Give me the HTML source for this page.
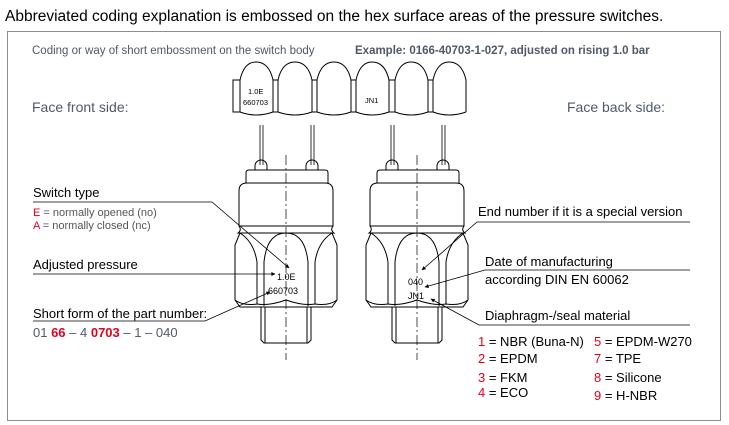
<!DOCTYPE html>
<html><head><meta charset="utf-8"><style>
body{margin:0;background:#fff}
svg{display:block}
text{font-family:"Liberation Sans",sans-serif}
</style></head><body>
<svg width="729" height="425" viewBox="0 0 729 425" xmlns="http://www.w3.org/2000/svg">
<defs>
<marker id="ar" viewBox="0 0 10 10" refX="9" refY="5" markerWidth="7" markerHeight="5" orient="auto"><path d="M0,0L10,5L0,10z" fill="#000"/></marker>
<g id="sw" fill="none" stroke="#000" stroke-width="1">
  <path d="M-26,125v40M-23,125v40M25,125v40M28,125v40" stroke-width="0.8"/>
  <path d="M-31,170v-4a6,6 0 0 1 12,0v4M20,170v-4a6,6 0 0 1 12,0v4"/>
  <path d="M-40,183v-10q0,-3 3,-3h76q3,0 3,3v10"/>
  <path d="M-47,226v-35q0,-8 8,-8h78q8,0 8,8v35z"/>
  <path d="M-47,226q3,4 -1,7h96q-4,-3 -1,-7"/>
  <!-- hex -->
  <path d="M-46,233l-5,12v55l5,7h92l5,-7v-55l-5,-12z"/>
  <path d="M-29,262v42M-22,262v44M22,262v44M29,262v42"/>
  <path d="M-22,262q3,-29 22,-29q19,0 22,29"/>
  <path d="M-29,262q-3,-20 -17,-29M29,262q3,-20 17,-29"/>
  <path d="M-51,300q8,6 22,4q12,2 29,-4q17,6 29,4q14,2 22,-4"/>
  <path d="M-25,307v33l3,3h44l3,-3v-33M-21,307v36M21,307v36"/>
  <path d="M0,155v205" stroke-dasharray="10,3,2,3" stroke-width="0.7"/>
</g>
</defs>
<text x="5" y="21" font-size="15.5" fill="#000">Abbreviated coding explanation is embossed on the hex surface areas of the pressure switches.</text>
<rect x="7.5" y="31.5" width="713" height="389" fill="none" stroke="#8a8f96" stroke-width="1"/>
<text x="32" y="54" font-size="11.5" fill="#4e5a68">Coding or way of short embossment on the switch body</text>
<text x="355" y="54" font-size="11.5" fill="#4e5a68" font-weight="bold">Example: 0166-40703-1-027, adjusted on rising 1.0 bar</text>
<text x="32" y="112" font-size="14" fill="#4e5a68">Face front side:</text>
<text x="567" y="112" font-size="14" fill="#4e5a68">Face back side:</text>
<g fill="none" stroke="#000" stroke-width="1">
  <rect x="233" y="80" width="7" height="32"/><rect x="273" y="80" width="5" height="32"/><rect x="312" y="80" width="5" height="32"/><rect x="351" y="80" width="5" height="32"/><rect x="389" y="80" width="6" height="32"/><rect x="428" y="80" width="5" height="32"/>
  <path d="M240,80q4,-18 16,-18q13,0 17,18M278,80q4,-18 17,-18q13,0 17,18M317,80q4,-18 17,-18q13,0 17,18M356,80q4,-18 16,-18q13,0 17,18M395,80q4,-18 16,-18q13,0 17,18M433,80q4,-18 16,-18q13,0 17,18v32"/>
  <path d="M240,112q16,6 33,0M278,112q17,6 34,0M317,112q17,6 34,0M356,112q16,6 33,0M395,112q16,6 33,0M433,112q16,6 33,0"/>
</g>
<text x="248" y="94" font-size="7.5">1.0E</text><text x="243" y="105" font-size="7.5">660703</text>
<text x="365" y="103" font-size="7.5">JN1</text>
<use href="#sw" transform="translate(286,0)"/>
<use href="#sw" transform="translate(417,0)"/>
<text x="277" y="280" font-size="9">1.0E</text><text x="268" y="294" font-size="9">660703</text>
<text x="408" y="285" font-size="9">040</text><text x="408" y="299" font-size="9">JN1</text>
<text x="33" y="197" font-size="13" fill="#000">Switch type</text>
<path d="M33,202H212L289,268" fill="none" stroke="#000" stroke-width="0.8" marker-end="url(#ar)"/>
<text x="33" y="216" font-size="11" fill="#555"><tspan fill="#e3001b">E</tspan>  =  normally opened (no)</text>
<text x="33" y="229" font-size="11" fill="#555"><tspan fill="#e3001b">A</tspan>  =  normally closed (nc)</text>
<text x="33" y="269" font-size="13">Adjusted pressure</text>
<path d="M33,274H275" fill="none" stroke="#000" stroke-width="0.8" marker-end="url(#ar)"/>
<text x="33" y="318" font-size="13">Short form of the part number:</text>
<path d="M33,321H205L270,292" fill="none" stroke="#000" stroke-width="0.8" marker-end="url(#ar)"/>
<text x="33" y="337" font-size="13" fill="#4e5a68">01 <tspan fill="#e3001b" font-weight="bold">66</tspan> – 4 <tspan fill="#e3001b" font-weight="bold">0703</tspan> – 1 – 040</text>
<text x="478" y="216" font-size="13">End number if it is a special version</text>
<path d="M690,222H477L422,270" fill="none" stroke="#000" stroke-width="0.8" marker-end="url(#ar)"/>
<text x="485" y="266" font-size="13">Date of manufacturing</text>
<path d="M690,270H485L425,287" fill="none" stroke="#000" stroke-width="0.8" marker-end="url(#ar)"/>
<text x="485" y="284" font-size="13">according DIN EN 60062</text>
<text x="485" y="320" font-size="13">Diaphragm-/seal material</text>
<path d="M690,325H479L431,299" fill="none" stroke="#000" stroke-width="0.8" marker-end="url(#ar)"/>
<g font-size="13" fill="#000">
<text x="478" y="346"><tspan fill="#e3001b">1</tspan> = NBR (Buna-N)</text>
<text x="478" y="363"><tspan fill="#e3001b">2</tspan> = EPDM</text>
<text x="478" y="382"><tspan fill="#e3001b">3</tspan> = FKM</text>
<text x="478" y="397"><tspan fill="#e3001b">4</tspan> = ECO</text>
<text x="594" y="346"><tspan fill="#e3001b">5</tspan> = EPDM-W270</text>
<text x="594" y="363"><tspan fill="#e3001b">7</tspan> = TPE</text>
<text x="594" y="382"><tspan fill="#e3001b">8</tspan> = Silicone</text>
<text x="594" y="400"><tspan fill="#e3001b">9</tspan> = H-NBR</text>
</g>
</svg>
</body></html>
